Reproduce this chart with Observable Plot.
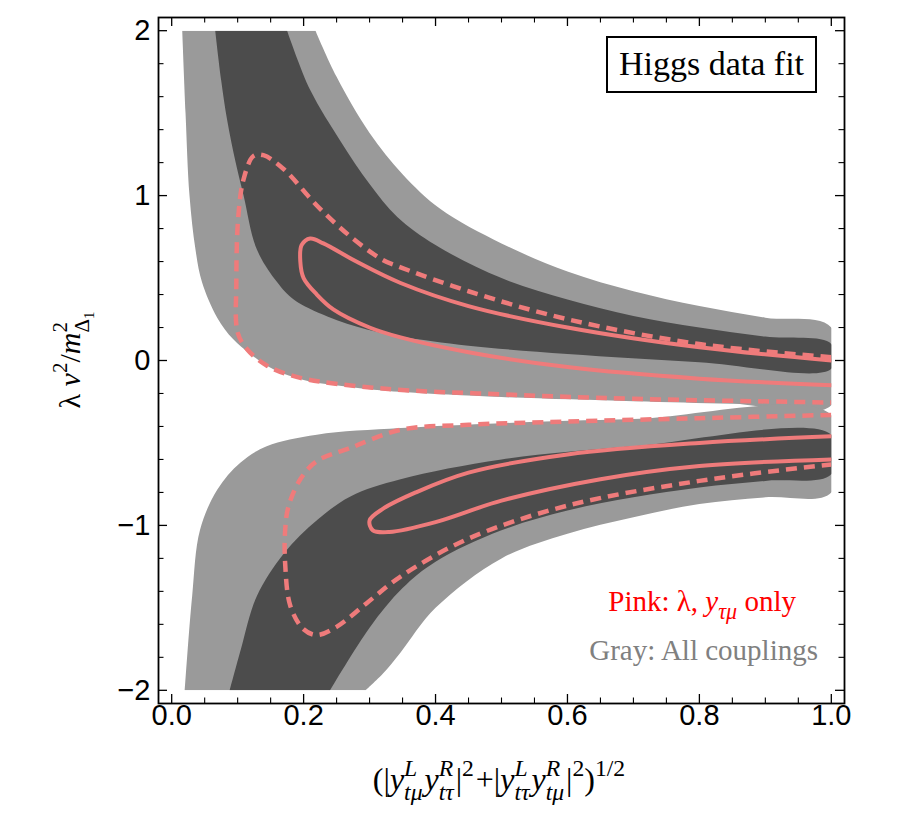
<!DOCTYPE html>
<html><head><meta charset="utf-8">
<script src="https://cdn.jsdelivr.net/npm/d3@7"></script>
<script src="https://cdn.jsdelivr.net/npm/@observablehq/plot@0.6"></script>
<style>body{margin:0;background:#fff}</style>
</head><body><div id="chart"></div>
<script>
// ---- tick values / labels
const xMajor = [0, 0.2, 0.4, 0.6, 0.8, 1.0];
const xMajorLabels = ["0.0", "0.2", "0.4", "0.6", "0.8", "1.0"];
const xMinor = [0.05,0.1,0.15,0.25,0.3,0.35,0.45,0.5,0.55,0.65,0.7,0.75,0.85,0.9,0.95];
const yMajor = [-2, -1, 0, 1, 2];
const yMajorLabels = ["\u22122", "\u22121", "0", "1", "2"];
const yMinor = [-1.8,-1.6,-1.4,-1.2,-0.8,-0.6,-0.4,-0.2,0.2,0.4,0.6,0.8,1.2,1.4,1.6,1.8];

// ---- gray regions (boundaries)
const upperLightLo = [[0.016,2],[0.021,1.5],[0.027,1.0],[0.036,0.674],[0.046,0.474],[0.069,0.26],[0.093,0.13],[0.119,0.04],[0.155,-0.055],[0.2,-0.118],[0.27,-0.16],[0.347,-0.19],[0.5,-0.222],[0.7,-0.247],[0.85,-0.262],[1.0,-0.272]];
const upperLightHi = [[0.218,2],[0.25,1.72],[0.3,1.38],[0.35,1.13],[0.407,0.92],[0.5,0.71],[0.6,0.54],[0.7,0.42],[0.8,0.33],[0.9,0.26],[1.0,0.2]];
const upperDarkLo = [[0.066,2],[0.075,1.7],[0.084,1.46],[0.097,1.2],[0.109,1.0],[0.129,0.674],[0.16,0.474],[0.185,0.37],[0.236,0.267],[0.296,0.188],[0.347,0.146],[0.45,0.09],[0.6,0.04],[0.8,-0.01],[1.0,-0.05]];
const upperDarkHi = [[0.175,2],[0.21,1.64],[0.256,1.33],[0.3,1.07],[0.342,0.87],[0.4,0.7],[0.5,0.5],[0.6,0.37],[0.7,0.27],[0.8,0.2],[0.9,0.145],[1.0,0.1]];
const lowerLightHi = [[0.02,-2],[0.031,-1.43],[0.043,-1.027],[0.069,-0.784],[0.104,-0.62],[0.144,-0.52],[0.22,-0.45],[0.347,-0.41],[0.5,-0.38],[0.7,-0.355],[1.0,-0.33]];
const lowerLightLo = [[0.294,-2],[0.32,-1.9],[0.347,-1.77],[0.4,-1.5],[0.5,-1.2],[0.6,-1.05],[0.7,-0.95],[0.8,-0.87],[0.9,-0.83],[1.0,-0.8]];
const lowerDarkHi = [[0.088,-2],[0.105,-1.75],[0.129,-1.43],[0.17,-1.17],[0.221,-0.966],[0.271,-0.824],[0.347,-0.72],[0.5,-0.6],[0.7,-0.52],[1.0,-0.45]];
const lowerDarkLo = [[0.24,-2],[0.3,-1.62],[0.35,-1.38],[0.4,-1.22],[0.5,-1.03],[0.6,-0.91],[0.7,-0.83],[0.8,-0.77],[0.9,-0.73],[1.0,-0.69]];

// ---- pink contours
const upperSolid = [[1.0,0.0],[0.8,0.08],[0.6,0.2],[0.45,0.33],[0.347,0.47],[0.28,0.6],[0.23,0.71],[0.21,0.74],[0.197,0.70],[0.195,0.6],[0.2,0.5],[0.22,0.4],[0.245,0.31],[0.3,0.2],[0.347,0.14],[0.45,0.05],[0.6,-0.04],[0.8,-0.11],[1.0,-0.15]];
const upperDashed = [[1.0,0.02],[0.8,0.1],[0.6,0.25],[0.45,0.42],[0.347,0.565],[0.32,0.61],[0.27,0.755],[0.22,0.94],[0.17,1.16],[0.139,1.245],[0.124,1.24],[0.109,1.1],[0.101,0.875],[0.098,0.47],[0.1,0.17],[0.114,0.07],[0.144,-0.03],[0.195,-0.105],[0.32,-0.17],[0.5,-0.205],[0.7,-0.232],[1.0,-0.255]];
const lowerDashed = [[1.0,-0.33],[0.8,-0.35],[0.6,-0.37],[0.45,-0.39],[0.347,-0.42],[0.271,-0.53],[0.22,-0.61],[0.195,-0.72],[0.177,-0.886],[0.172,-1.03],[0.172,-1.23],[0.18,-1.49],[0.2,-1.63],[0.22,-1.665],[0.25,-1.615],[0.296,-1.47],[0.347,-1.31],[0.45,-1.08],[0.6,-0.88],[0.8,-0.73],[1.0,-0.63]];
const lowerSolid = [[1.0,-0.46],[0.8,-0.5],[0.6,-0.57],[0.45,-0.68],[0.37,-0.8],[0.32,-0.9],[0.3,-0.97],[0.305,-1.03],[0.33,-1.04],[0.4,-0.98],[0.5,-0.85],[0.65,-0.72],[0.8,-0.64],[1.0,-0.6]];

const poly = (a, b) => a.concat(b.slice().reverse());
const LIGHT = "#9a9a9a", DARK = "#4c4c4c", PINK = "#ef7b7b";
const W = 903, H = 813, mL = 158, mT = 17, mR = 59, mB = 110;
const FW = W - mL - mR, FH = H - mT - mB;
const px = d => d[0], py = d => d[1];
const sans = "Liberation Sans, Arial, sans-serif";
const serif = "Liberation Serif, Times New Roman, serif";

const chart = Plot.plot({
  width: W, height: H,
  marginLeft: mL, marginTop: mT, marginRight: mR, marginBottom: mB,
  x: {domain: [-0.02, 1.02], axis: null},
  y: {domain: [-2.08, 2.08], axis: null},
  marks: [
    Plot.line(poly(upperLightLo, upperLightHi), {x: px, y: py, fill: LIGHT, stroke: "none", curve: "catmull-rom"}),
    Plot.line(poly(upperDarkLo, upperDarkHi), {x: px, y: py, fill: DARK, stroke: "none", curve: "catmull-rom"}),
    Plot.line(poly(lowerLightHi, lowerLightLo), {x: px, y: py, fill: LIGHT, stroke: "none", curve: "catmull-rom"}),
    Plot.line(poly(lowerDarkHi, lowerDarkLo), {x: px, y: py, fill: DARK, stroke: "none", curve: "catmull-rom"}),
    Plot.line(upperSolid, {x: px, y: py, stroke: PINK, strokeWidth: 4, curve: "catmull-rom"}),
    Plot.line(lowerSolid, {x: px, y: py, stroke: PINK, strokeWidth: 4, curve: "catmull-rom"}),
    Plot.line(upperDashed, {x: px, y: py, stroke: PINK, strokeWidth: 4.5, strokeDasharray: "11,7", strokeLinecap: "butt", curve: "catmull-rom"}),
    Plot.line(lowerDashed, {x: px, y: py, stroke: PINK, strokeWidth: 4.5, strokeDasharray: "11,7", strokeLinecap: "butt", curve: "catmull-rom"}),
    // ticks (inward, all four sides)
    Plot.tickX(xMajor, {x: d => d, insetTop: FH - 9, stroke: "black", strokeWidth: 1.3}),
    Plot.tickX(xMajor, {x: d => d, insetBottom: FH - 9, stroke: "black", strokeWidth: 1.3}),
    Plot.tickX(xMinor, {x: d => d, insetTop: FH - 5.5, stroke: "black", strokeWidth: 1.1}),
    Plot.tickX(xMinor, {x: d => d, insetBottom: FH - 5.5, stroke: "black", strokeWidth: 1.1}),
    Plot.tickY(yMajor, {y: d => d, insetRight: FW - 9, stroke: "black", strokeWidth: 1.3}),
    Plot.tickY(yMajor, {y: d => d, insetLeft: FW - 9, stroke: "black", strokeWidth: 1.3}),
    Plot.tickY(yMinor, {y: d => d, insetRight: FW - 5.5, stroke: "black", strokeWidth: 1.1}),
    Plot.tickY(yMinor, {y: d => d, insetLeft: FW - 5.5, stroke: "black", strokeWidth: 1.1}),
    Plot.frame({stroke: "black", strokeWidth: 1.8}),
    Plot.text(xMajor, {x: d => d, frameAnchor: "bottom", dy: 21, text: (d, i) => xMajorLabels[i], fontSize: 29, fontFamily: sans, fill: "black"}),
    Plot.text(yMajor, {y: d => d, frameAnchor: "left", dx: -8, textAnchor: "end", text: (d, i) => yMajorLabels[i], fontSize: 29, fontFamily: sans, fill: "black"})
  ]
});
document.getElementById("chart").appendChild(chart);

const svg = d3.select(chart);
const sx = chart.scale("x"), sy = chart.scale("y");
// clip regions and contours to the data window x∈[0,1], y∈[-2,2]
const defs = svg.insert("defs", ":first-child");
defs.append("clipPath").attr("id", "dataClip").append("rect")
  .attr("x", sx.apply(0)).attr("y", sy.apply(2))
  .attr("width", sx.apply(1) - sx.apply(0)).attr("height", sy.apply(-2) - sy.apply(2));
svg.selectAll('g[aria-label="line"]').attr("clip-path", "url(#dataClip)");

// rich text helper
function rich(pieces, {x, y, size, anchor = "middle", rotate = 0, fill = "black", family = serif}) {
  const g = svg.append("g").attr("transform", `translate(${x},${y}) rotate(${rotate})`)
    .attr("text-anchor", "start");
  let cx = 0, stackStart = 0;
  const nodes = [];
  for (const p of pieces) {
    if (p.gap) { cx += p.gap * size; stackStart = cx; continue; }
    const start = p.stack ? stackStart : cx;
    const t = g.append("text").attr("x", start).attr("y", (p.b || 0) * size)
      .attr("text-anchor", "start")
      .attr("font-size", size * (p.s || 1)).attr("font-family", family)
      .attr("font-style", p.it ? "italic" : "normal").attr("fill", fill).text(p.t);
    nodes.push(t);
    const w = t.node().getComputedTextLength();
    if (p.stack) cx = Math.max(cx, start + w);
    else { stackStart = start; cx = start + w; }
  }
  const off = anchor === "middle" ? -cx / 2 : anchor === "end" ? -cx : 0;
  for (const t of nodes) t.attr("x", +t.attr("x") + off);
  return g;
}

// x axis label
const SUP = -0.44, SUB = 0.32, SC = 0.74, G = 0.06;
rich([
  {t: "(|"}, {t: "y", it: 1}, {t: "L", it: 1, s: SC, b: SUP}, {t: "t\u03bc", it: 1, s: SC, b: SUB, stack: 1}, {gap: G},
  {t: "y", it: 1}, {t: "R", it: 1, s: SC, b: SUP}, {t: "t\u03c4", it: 1, s: SC, b: SUB, stack: 1}, {gap: G},
  {t: "|"}, {t: "2", s: SC, b: SUP}, {gap: G}, {t: "+|"},
  {t: "y", it: 1}, {t: "L", it: 1, s: SC, b: SUP}, {t: "t\u03c4", it: 1, s: SC, b: SUB, stack: 1}, {gap: G},
  {t: "y", it: 1}, {t: "R", it: 1, s: SC, b: SUP}, {t: "t\u03bc", it: 1, s: SC, b: SUB, stack: 1}, {gap: G},
  {t: "|"}, {t: "2", s: SC, b: SUP}, {t: ")"}, {t: "1/2", s: SC, b: SUP}
], {x: sx.apply(0.5) - 2, y: 790, size: 32});

// y axis label
rich([
  {t: "\u03bb"}, {gap: 0.25}, {t: "v", it: 1}, {t: "2", s: 0.7, b: SUP}, {t: "/"}, {t: "m", it: 1},
  {t: "2", s: 0.7, b: SUP}, {t: "\u0394", s: 0.7, b: 0.3, stack: 1}, {t: "1", s: 0.5, b: 0.45}
], {x: 80, y: sy.apply(0), size: 30, rotate: -90});

// "Higgs data fit" box
svg.append("rect").attr("x", 607).attr("y", 37).attr("width", 209).attr("height", 55)
  .attr("fill", "white").attr("stroke", "black").attr("stroke-width", 2);
rich([{t: "Higgs data fit"}], {x: 711.5, y: 75, size: 34});

// legend texts
rich([{t: "Pink: \u03bb,"}, {gap: 0.25}, {t: "y", it: 1}, {t: "\u03c4\u03bc", it: 1, s: 0.76, b: 0.28}, {gap: 0.25}, {t: "only"}],
  {x: 796, y: 611, size: 29, anchor: "end", fill: "#ff0000"});
rich([{t: "Gray: All couplings"}], {x: 818, y: 660, size: 29, anchor: "end", fill: "#808080"});
</script>
</body></html>
